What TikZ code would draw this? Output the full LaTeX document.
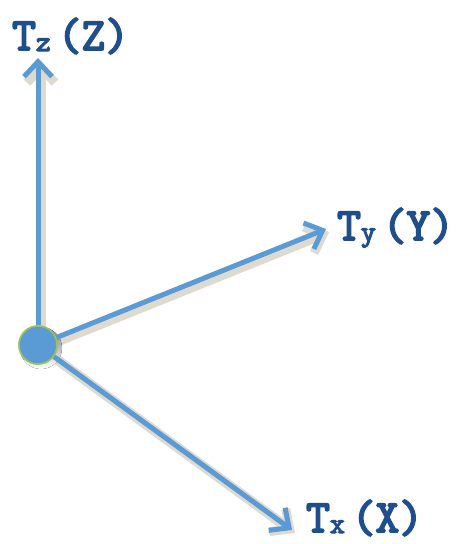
\documentclass[tikz,border=0pt]{standalone}
\usepackage{fontspec}
\newfontfamily\labfont[FakeBold=4]{Latin Modern Mono}
\usetikzlibrary{arrows.meta}
\definecolor{axis}{HTML}{5B9BD5}
\definecolor{shade}{HTML}{DEDAD0}
\definecolor{lbl}{HTML}{1F4E8C}
\definecolor{rim}{HTML}{9BC25A}
\newcommand{\axlabel}[2]{\labfont\fontsize{46}{46}\selectfont T\raisebox{-1pt}{\fontsize{29}{29}\selectfont #1}\hspace{7pt}(#2)}
\begin{document}
\begin{tikzpicture}[x=1pt,y=-1pt,
  axisline/.style={draw=axis, line width=5pt, -{Straight Barb[length=15pt, width=28pt, line width=5pt]}},
  shadowline/.style={draw=shade, line width=10pt, line cap=round, -{Straight Barb[length=15pt, width=28pt, line width=9pt]}},
  dot/.style={circle, fill=axis, draw=rim, line width=1.5pt, minimum size=38pt, inner sep=0pt},
  lab/.style={anchor=base west, inner sep=0pt, text=lbl}]
\useasboundingbox (0,0) rectangle (459,544);
% shadows
\begin{scope}[shift={(3,3)}]
  \coordinate (so) at (38,345);
  \coordinate (szt) at (38,58);
  \coordinate (syt) at (326,229);
  \coordinate (sxt) at (292,530);
  \draw[shadowline] (so) -- (szt);
  \draw[shadowline] (so) -- (syt);
  \draw[shadowline] (so) -- (sxt);
  \fill[shade] (so) circle (21pt);
\end{scope}
% axes
\node[dot] (o) at (38,345) {};
\coordinate (zt) at (38,58);
\coordinate (yt) at (326,229);
\coordinate (xt) at (292,530);
\draw[axisline] (o) -- (zt);
\draw[axisline] (o) -- (yt);
\draw[axisline] (o) -- (xt);
\node[dot] (o2) at (38,345) {};
% labels
\node[lab] (lz) at (12,50) {\axlabel{z}{Z}};
\node[lab] (ly) at (337,240) {\axlabel{y}{Y}};
\node[lab] (lx) at (306,532) {\axlabel{x}{X}};
\end{tikzpicture}
\end{document}
